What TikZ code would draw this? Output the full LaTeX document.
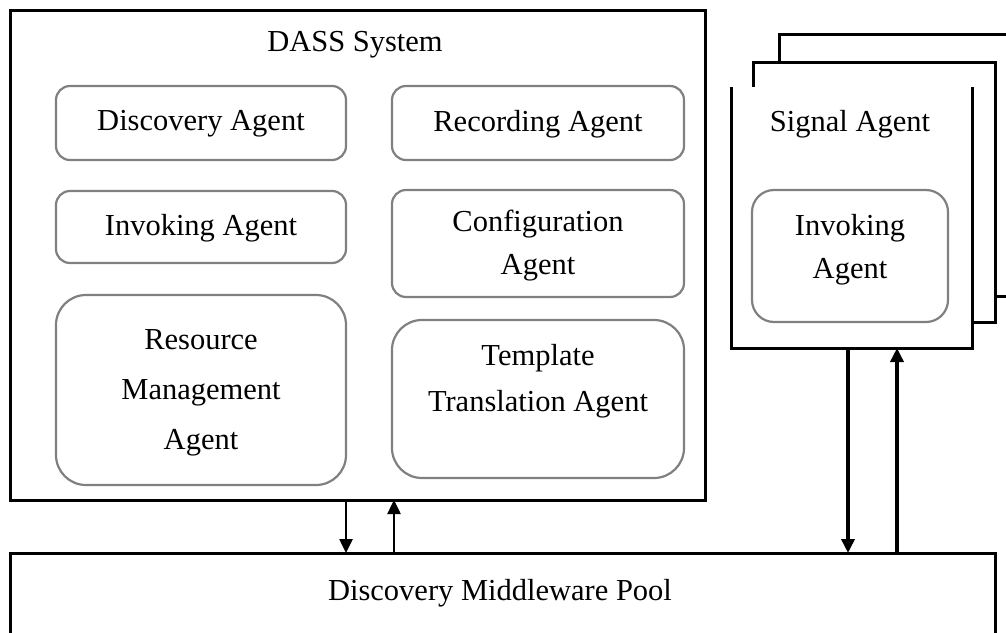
\documentclass[tikz,border=0pt]{standalone}
\usepackage{fontspec}
\setmainfont{Liberation Serif}
\usetikzlibrary{arrows.meta}
\begin{document}
\begin{tikzpicture}[x=1pt,y=-1pt,
  outer/.style={draw=black,line width=3pt,fill=white},
  agentbox/.style={draw=black!50,line width=2.2pt,rounded corners=14pt,fill=white},
  bigbox/.style={draw=black!50,line width=2.2pt,rounded corners=30pt,fill=white},
  lbl/.style={font=\fontsize{30.5}{43}\selectfont,align=center,text=black},
  flow/.style={line width=2.5pt,-{Triangle[length=14pt,width=13pt]}},
  flowthick/.style={line width=3.5pt,-{Triangle[length=14pt,width=13pt]}}]
\useasboundingbox (0,0) rectangle (1006,632);
% DASS system
\draw[outer] (10,10) rectangle (705,500);
\node[lbl] (dasst) at (355,45) {DASS System};
\draw[agentbox] (56,86) rectangle (346,160);
\node[lbl] (disc) at (201,124) {Discovery Agent};
\draw[agentbox] (392,86) rectangle (684,160);
\node[lbl] (rec) at (538,124) {Recording Agent};
\draw[agentbox] (56,191) rectangle (346,263);
\node[lbl] (inv) at (201,228) {Invoking Agent};
\draw[agentbox] (392,190) rectangle (684,297);
\node[lbl] (conf) at (538,246) {Configuration\\Agent};
\draw[bigbox] (56,295) rectangle (346,485);
\node[lbl,font=\fontsize{30.5}{50}\selectfont] (res) at (201,393) {Resource\\Management\\Agent};
\draw[bigbox] (392,320) rectangle (684,478);
\node[lbl,font=\fontsize{30.5}{46}\selectfont] (tmpl) at (538,381) {Template\\Translation Agent};
% Signal agent stack
\draw[outer] (779,34) rectangle (1030,296);
\draw[outer] (753,62) rectangle (995,322);
\fill[white] (731,87) rectangle (972,348);
\draw[line width=3pt] (731,87) -- (731,348) -- (972,348) -- (972,87);
\node[lbl] (sig) at (850,124) {Signal Agent};
\draw[agentbox,rounded corners=22pt] (752,190) rectangle (948,322);
\node[lbl] (sinv) at (850,250) {Invoking\\Agent};
% Middleware pool
\draw[outer] (10,553) rectangle (995,650);
\node[lbl] (pool) at (500,593) {Discovery Middleware Pool};
% connectors
\coordinate (a1) at (346,500); \coordinate (b1) at (346,553);
\coordinate (a2) at (394,553); \coordinate (b2) at (394,500);
\coordinate (a3) at (848,348); \coordinate (b3) at (848,553);
\coordinate (a4) at (897,553); \coordinate (b4) at (897,348);
\draw[flow] (a1) -- (b1);
\draw[flow] (a2) -- (b2);
\draw[flowthick] (a3) -- (b3);
\draw[flowthick] (a4) -- (b4);
\end{tikzpicture}
\end{document}
